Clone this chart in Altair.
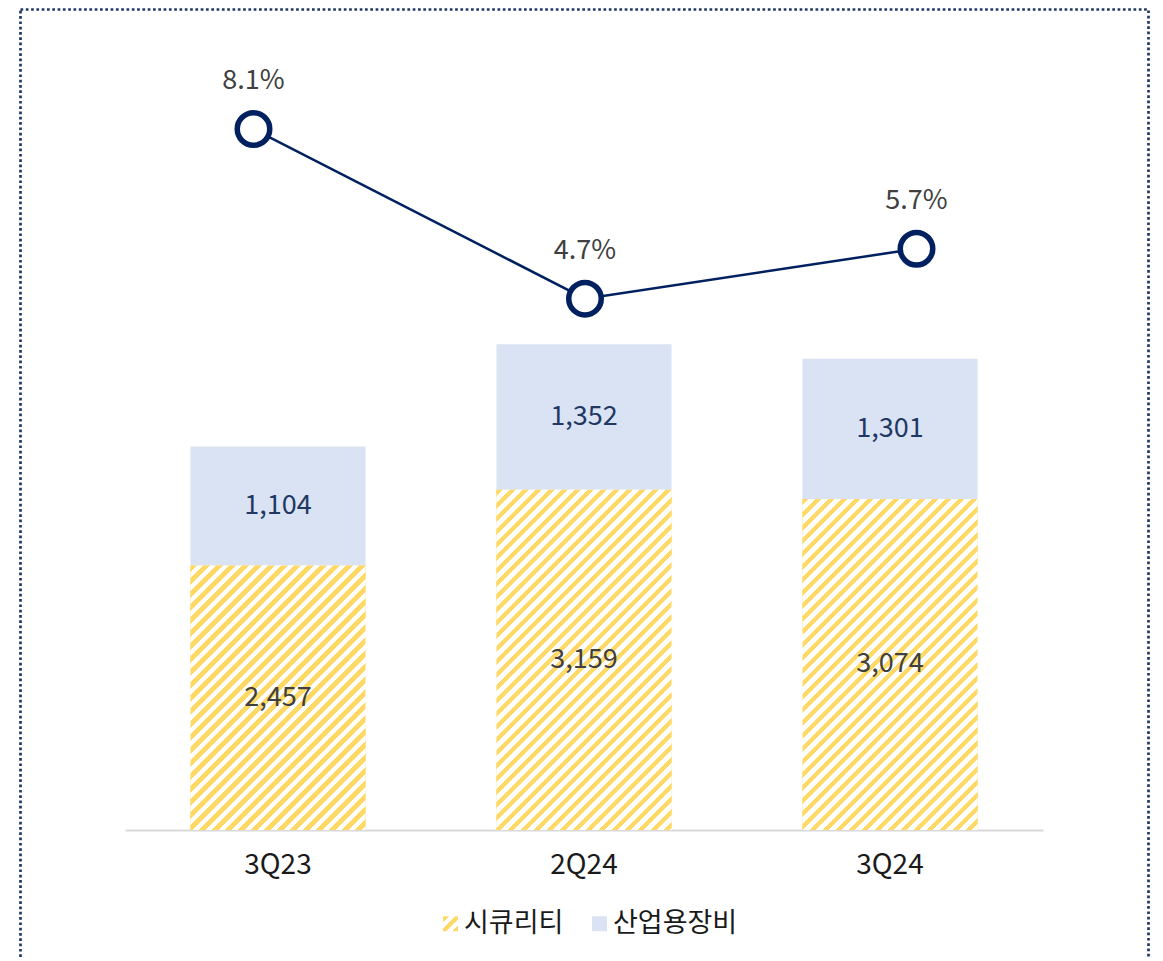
import json
import altair as alt

# ---------------- data ----------------
quarters = ["3Q23", "2Q24", "3Q24"]
security = [2457, 3159, 3074]          # 시큐리티
equipment = [1104, 1352, 1301]         # 산업용장비
margin_pct = [8.1, 4.7, 5.7]
series_names = ["시큐리티", "산업용장비"]

# ---------------- style ----------------
YELLOW = "#FFD966"
WHITE = "#FFFFFF"
LIGHT_BLUE = "#DAE3F3"
NAVY = "#002060"
LABEL_NAVY = "#1F3864"
GRAY_TEXT = "#404040"
AXIS_TEXT = "#1A1A1A"
BORDER = "#203864"
FONT = "Noto Sans CJK KR"

W, H = 918, 770
Y_MAX = 7150
PAD_INNER = 0.428
PAD_OUTER = 0.214
STEP = W / (len(quarters) - PAD_INNER + 2 * PAD_OUTER)
BAR_W = STEP * (1 - PAD_INNER)
HATCH_PERIOD = 13.0


def hatch_stops(span, period=HATCH_PERIOD, duty=0.5):
    stops = []
    pos = 0.0
    while pos < span:
        a = round(pos / span, 5)
        b = round(min((pos + period * duty) / span, 1.0), 5)
        c = round(min((pos + period) / span, 1.0), 5)
        stops += [
            {"offset": a, "color": YELLOW},
            {"offset": b, "color": YELLOW},
            {"offset": b, "color": WHITE},
            {"offset": c, "color": WHITE},
        ]
        pos += period
    return stops


def hatch(w, h):
    k = (w + h) / (w * w + h * h)
    return {"gradient": "linear", "x1": 0, "y1": 0,
            "x2": round(k * w, 6), "y2": round(k * h, 6),
            "stops": hatch_stops(w + h)}


legend_hatch = {"gradient": "linear", "x1": 0, "y1": 0, "x2": 1, "y2": 1,
                "stops": hatch_stops(30.0, period=12.0)}

bar_rows = []
for q, s, e in zip(quarters, security, equipment):
    bar_rows.append({"quarter": q, "series": series_names[0], "value": s, "ord": 0,
                     "hatch": hatch(BAR_W, s * H / Y_MAX)})
    bar_rows.append({"quarter": q, "series": series_names[1], "value": e, "ord": 1})

line_rows = [{"quarter": q, "pct": p} for q, p in zip(quarters, margin_pct)]

# ---------------- bars ----------------
base = (
    alt.Chart(alt.Data(values=bar_rows))
    .transform_stack(stack="value", groupby=["quarter"], as_=["y0", "y1"],
                     sort=[alt.SortField("ord", order="ascending")])
    .transform_calculate(mid="(datum.y0 + datum.y1) / 2")
)

x_enc = alt.X(
    "quarter:N", sort=quarters,
    scale=alt.Scale(paddingInner=PAD_INNER, paddingOuter=PAD_OUTER),
    axis=alt.Axis(title=None, labelAngle=0, labelFontSize=28, labelFont=FONT,
                  labelColor=AXIS_TEXT, ticks=False, grid=False,
                  domainColor="#D9D9D9", domainWidth=2, labelPadding=21),
)
y_scale = alt.Scale(domain=[0, Y_MAX], nice=False, zero=True)

bars = base.mark_bar().encode(
    x=x_enc,
    y=alt.Y("y1:Q", scale=y_scale, axis=None),
    y2="y0:Q",
    color=alt.Color(
        "series:N",
        scale=alt.Scale(domain=series_names,
                        range=[alt.ExprRef(expr=json.dumps(legend_hatch)), LIGHT_BLUE]),
        legend=alt.Legend(title=None, orient="none", legendX=312, legendY=850,
                          direction="horizontal", labelFont=FONT, labelFontSize=27,
                          labelColor=AXIS_TEXT, symbolType="square", symbolSize=225,
                          symbolStrokeWidth=0, symbolOpacity=1, labelOffset=0,
                          columnPadding=22),
    ),
)

hatch_bars = base.transform_filter("datum.ord == 0").mark_bar().encode(
    x=x_enc,
    y=alt.Y("y1:Q", scale=y_scale, axis=None),
    y2="y0:Q",
    fill=alt.Fill("hatch:N", scale=None, legend=None),
)

bar_labels = base.mark_text(fontSize=27, font=FONT).encode(
    x=x_enc,
    y=alt.Y("mid:Q", scale=y_scale, axis=None),
    text=alt.Text("value:Q", format=","),
    color=alt.condition("datum.ord == 0", alt.value(GRAY_TEXT), alt.value(LABEL_NAVY)),
)

bar_layer = alt.layer(bars, hatch_bars, bar_labels)

# ---------------- line ----------------
lbase = alt.Chart(alt.Data(values=line_rows)).transform_calculate(
    label="format(datum.pct, '.1f') + '%'"
)
x_line = alt.X("quarter:N", sort=quarters,
               scale=alt.Scale(type="point", range=[128.5, 791.5], padding=0), axis=None)
y_line = alt.Y("pct:Q", scale=alt.Scale(domain=[-5.948, 9.483], nice=False, zero=False),
               axis=None)

line = lbase.mark_line(color=NAVY, strokeWidth=2.5).encode(x=x_line, y=y_line)
points = lbase.mark_point(shape="circle", size=1056, filled=True, fill=WHITE,
                          stroke=NAVY, strokeWidth=5.5, opacity=1).encode(x=x_line, y=y_line)
pct_labels = lbase.mark_text(dy=-48, fontSize=27, font=FONT, color=GRAY_TEXT).encode(
    x=x_line, y=y_line, text="label:N")

line_layer = alt.layer(line, points, pct_labels)

# ---------------- dotted frame ----------------
frame = alt.Chart(alt.Data(values=[{"f": 1}])).mark_rect(
    fill=WHITE, fillOpacity=0, stroke=BORDER, strokeWidth=2.7, strokeDash=[2.7, 2.6]
).encode(
    x=alt.value(-104.5), x2=alt.value(1023.5), y=alt.value(-50.5), y2=alt.value(1500)
)

chart = (
    alt.layer(frame, bar_layer, line_layer)
    .resolve_scale(x="independent", y="independent")
    .properties(
        width=W, height=H,
        autosize=alt.AutoSizeParams(type="none"),
        padding={"left": 117, "top": 52, "right": 110, "bottom": 128},
        background="white",
    )
    .configure_view(strokeWidth=0)
)

chart.save("out.html", embed_options={"renderer": "svg", "actions": False})
